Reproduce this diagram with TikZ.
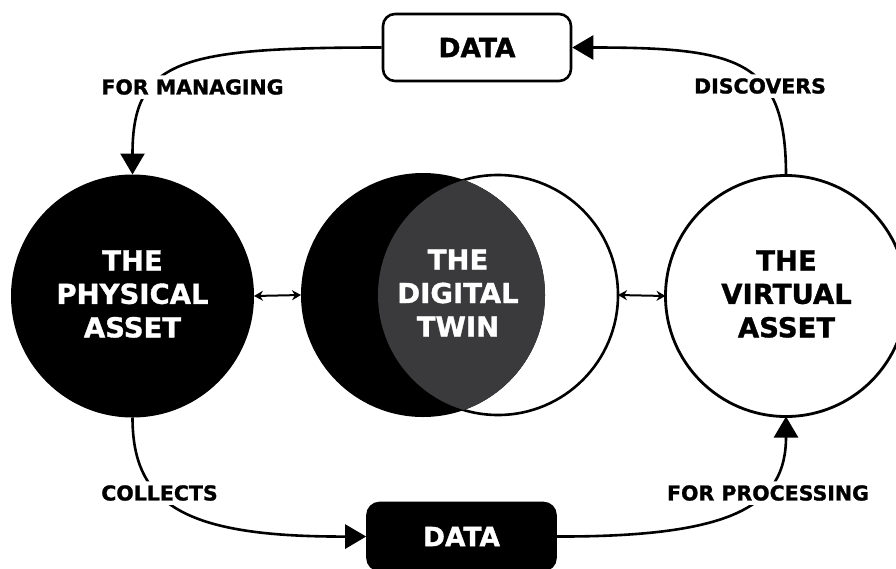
\documentclass[tikz,border=0pt]{standalone}
\usepackage{fontspec}
\setmainfont{DejaVu Sans}
\newfontfamily\heavy{DejaVu Sans Bold}[FakeBold=1.2]
\usetikzlibrary{arrows.meta}
\definecolor{dtgray}{RGB}{58,58,60}
\tikzset{
  big/.style={font=\heavy\fontsize{27.5}{33.5}\selectfont, align=center},
  lab/.style={fill=white, rounded corners=8pt, inner sep=4pt, font=\heavy\fontsize{20.5}{24}\selectfont},
  flow/.style={line width=2.6pt, -{Triangle[length=21pt,width=24pt]}},
  link/.style={line width=2pt, {Stealth[length=9pt,width=10pt]}-{Stealth[length=9pt,width=10pt]}},
  databox/.style={rounded corners=12pt, line width=2.6pt, minimum width=188pt, minimum height=67pt, inner sep=0pt, font=\heavy\fontsize{26.5}{30}\selectfont},
  disc/.style={circle, inner sep=0pt, outer sep=0pt},
}
\begin{document}
\begin{tikzpicture}[x=1pt,y=-1pt]
\useasboundingbox (0,0) rectangle (896,568);
\clip (0,0) rectangle (896,568);
% circles
\node[disc, fill=black, minimum size=243pt] (phys) at (132.5,296) {};
\node[disc, draw=black, fill=white, line width=2.6pt, minimum size=240pt] (dtw) at (498,295) {};
\node[disc, fill=black, minimum size=244pt] (dtb) at (423,295) {};
\begin{scope}
  \clip (423,295) circle (122pt);
  \fill[dtgray] (498,295) circle (120pt);
\end{scope}
\node[disc, draw=black, fill=white, line width=2.8pt, minimum size=241pt] (virt) at (786,296) {};
% texts
\node[big, text=white] (physt) at (132.5,294) {THE\\PHYSICAL\\ASSET};
\node[big, text=white] (dtt) at (458,293) {THE\\DIGITAL\\TWIN};
\node[big, text=black] (virtt) at (786.5,294) {THE\\VIRTUAL\\ASSET};
% data boxes
\node[databox, draw=black, fill=white, text=black] (dtop) at (477,47.5) {DATA};
\node[databox, draw=black, fill=black, text=white] (dbot) at (461.5,536.5) {DATA};
% links
\draw[link] (phys.east) -- (dtb.west);
\draw[link] (dtw.east) -- (virt.west);
% flows
\draw[flow] (dtop.west) .. controls (179,47.5) and (132.5,60) .. (phys.north);
\draw[flow] (virt.north) .. controls (786,60) and (740,47.5) .. (dtop.east);
\draw[flow] (phys.south) .. controls (132.5,505) and (185,537) .. (dbot.west);
\draw[flow] (dbot.east) .. controls (735,537) and (786,505) .. (virt.south);
% labels
\node[lab] (l1) at (192.5,87) {FOR MANAGING};
\node[lab] (l2) at (760,86) {DISCOVERS};
\node[lab] (l3) at (159.5,493) {COLLECTS};
\node[lab] (l4) at (768,493) {FOR PROCESSING};
\end{tikzpicture}
\end{document}
